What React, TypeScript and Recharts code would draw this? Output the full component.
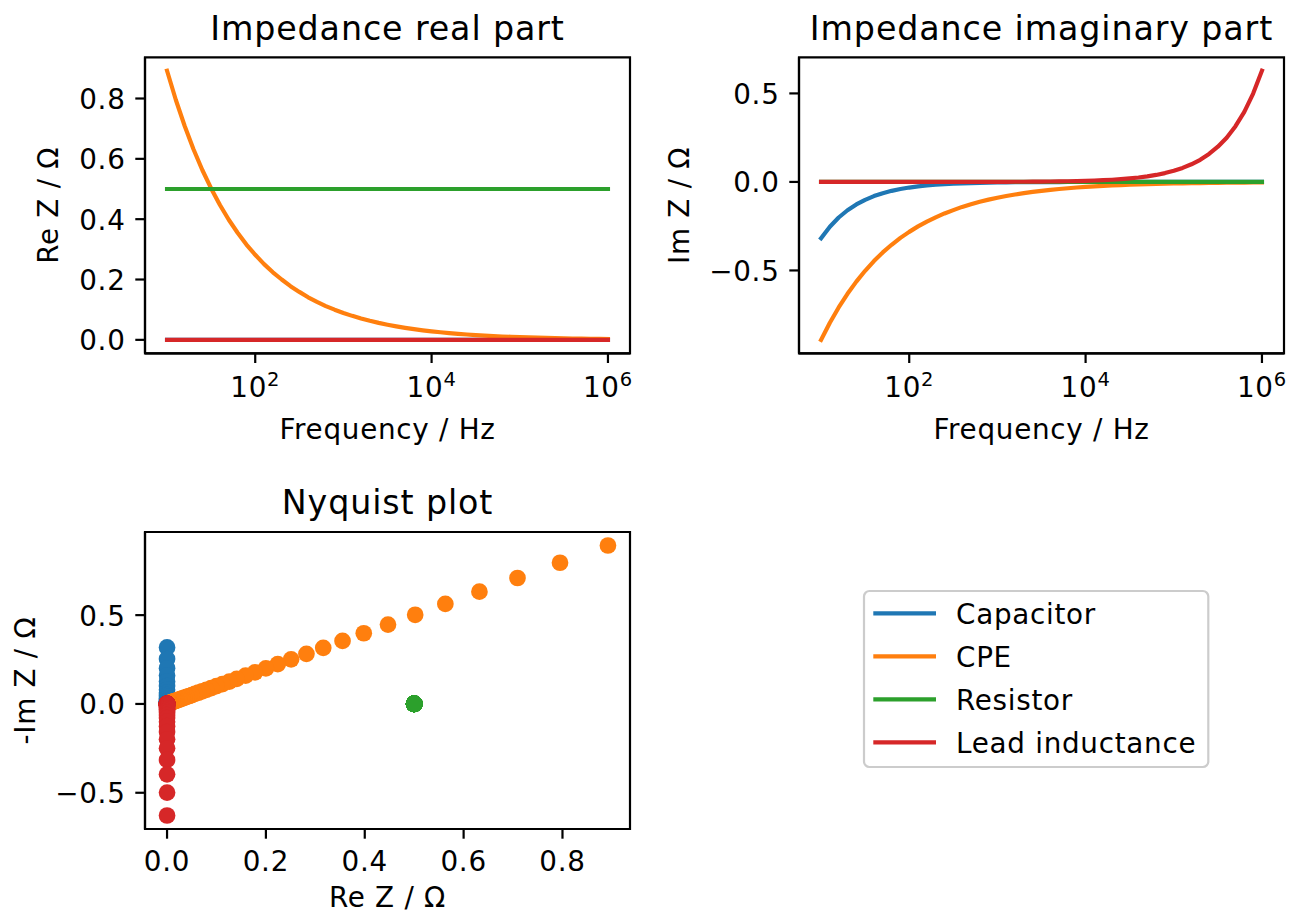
import React from "react"
import { LineChart, Line, ScatterChart, Scatter, XAxis, YAxis, ReferenceArea, Legend } from "recharts"

const FONT = "'DejaVu Sans', 'Liberation Sans', sans-serif"

const seriesNames = ["Capacitor", "CPE", "Resistor", "Lead inductance"]
const seriesColors = ["#1f77b4", "#ff7f0e", "#2ca02c", "#d62728"]

// frequency grid, Hz
const frequency = [
  10, 12.59, 15.85, 19.95, 25.12, 31.62, 39.81, 50.12, 63.1, 79.43,
  100, 125.9, 158.5, 199.5, 251.2, 316.2, 398.1, 501.2, 631, 794.3,
  1000, 1259, 1585, 1995, 2512, 3162, 3981, 5012, 6310, 7943,
  10000, 12589, 15849, 19953, 25119, 31623, 39811, 50119, 63096, 79433,
  100000, 125893, 158489, 199526, 251189, 316228, 398107, 501187, 630957, 794328,
  1000000,
]

const capacitorRe = [
  0, 0, 0, 0, 0, 0, 0, 0, 0, 0,
  0, 0, 0, 0, 0, 0, 0, 0, 0, 0,
  0, 0, 0, 0, 0, 0, 0, 0, 0, 0,
  0, 0, 0, 0, 0, 0, 0, 0, 0, 0,
  0, 0, 0, 0, 0, 0, 0, 0, 0, 0,
  0,
]
const capacitorIm = [
  -0.318, -0.253, -0.201, -0.16, -0.127, -0.101, -0.0799, -0.0635, -0.0504, -0.0401,
  -0.0318, -0.0253, -0.0201, -0.016, -0.0127, -0.0101, -0.00799, -0.00635, -0.00504, -0.00401,
  -0.00318, -0.00253, -0.00201, -0.0016, -0.00127, -0.00101, -0.000799, -0.000635, -0.000504, -0.000401,
  -0.000318, -0.000253, -0.000201, -0.00016, -0.000127, -0.000101, -0.0000799, -0.0000635, -0.0000504, -0.0000401,
  -0.0000318, -0.0000253, -0.0000201, -0.000016, -0.0000127, -0.0000101, -0.00000799, -0.00000635, -0.00000504, -0.00000401,
  -0.00000318,
]

const cpeRe = [
  0.892, 0.795, 0.709, 0.632, 0.563, 0.502, 0.447, 0.398, 0.355, 0.316,
  0.282, 0.251, 0.224, 0.2, 0.178, 0.159, 0.141, 0.126, 0.112, 0.1,
  0.0892, 0.0795, 0.0709, 0.0632, 0.0563, 0.0502, 0.0447, 0.0398, 0.0355, 0.0316,
  0.0282, 0.0251, 0.0224, 0.02, 0.0178, 0.0159, 0.0141, 0.0126, 0.0112, 0.01,
  0.00892, 0.00795, 0.00709, 0.00632, 0.00563, 0.00502, 0.00447, 0.00398, 0.00355, 0.00316,
  0.00282,
]
const cpeIm = [
  -0.892, -0.795, -0.709, -0.632, -0.563, -0.502, -0.447, -0.398, -0.355, -0.316,
  -0.282, -0.251, -0.224, -0.2, -0.178, -0.159, -0.141, -0.126, -0.112, -0.1,
  -0.0892, -0.0795, -0.0709, -0.0632, -0.0563, -0.0502, -0.0447, -0.0398, -0.0355, -0.0316,
  -0.0282, -0.0251, -0.0224, -0.02, -0.0178, -0.0159, -0.0141, -0.0126, -0.0112, -0.01,
  -0.00892, -0.00795, -0.00709, -0.00632, -0.00563, -0.00502, -0.00447, -0.00398, -0.00355, -0.00316,
  -0.00282,
]

const resistorRe = [
  0.5, 0.5, 0.5, 0.5, 0.5, 0.5, 0.5, 0.5, 0.5, 0.5,
  0.5, 0.5, 0.5, 0.5, 0.5, 0.5, 0.5, 0.5, 0.5, 0.5,
  0.5, 0.5, 0.5, 0.5, 0.5, 0.5, 0.5, 0.5, 0.5, 0.5,
  0.5, 0.5, 0.5, 0.5, 0.5, 0.5, 0.5, 0.5, 0.5, 0.5,
  0.5, 0.5, 0.5, 0.5, 0.5, 0.5, 0.5, 0.5, 0.5, 0.5,
  0.5,
]
const resistorIm = [
  0, 0, 0, 0, 0, 0, 0, 0, 0, 0,
  0, 0, 0, 0, 0, 0, 0, 0, 0, 0,
  0, 0, 0, 0, 0, 0, 0, 0, 0, 0,
  0, 0, 0, 0, 0, 0, 0, 0, 0, 0,
  0, 0, 0, 0, 0, 0, 0, 0, 0, 0,
  0,
]

const inductanceRe = [
  0, 0, 0, 0, 0, 0, 0, 0, 0, 0,
  0, 0, 0, 0, 0, 0, 0, 0, 0, 0,
  0, 0, 0, 0, 0, 0, 0, 0, 0, 0,
  0, 0, 0, 0, 0, 0, 0, 0, 0, 0,
  0, 0, 0, 0, 0, 0, 0, 0, 0, 0,
  0,
]
const inductanceIm = [
  0.00000628, 0.00000791, 0.00000996, 0.0000125, 0.0000158, 0.0000199, 0.000025, 0.0000315, 0.0000396, 0.0000499,
  0.0000628, 0.0000791, 0.0000996, 0.000125, 0.000158, 0.000199, 0.00025, 0.000315, 0.000396, 0.000499,
  0.000628, 0.000791, 0.000996, 0.00125, 0.00158, 0.00199, 0.0025, 0.00315, 0.00396, 0.00499,
  0.00628, 0.00791, 0.00996, 0.0125, 0.0158, 0.0199, 0.025, 0.0315, 0.0396, 0.0499,
  0.0628, 0.0791, 0.0996, 0.125, 0.158, 0.199, 0.25, 0.315, 0.396, 0.499,
  0.628,
]

const freqTicks = [100, 10000, 1000000]
const reTicks = [0, 0.2, 0.4, 0.6, 0.8]
const imTicks = [-0.5, 0, 0.5]
const nyquistXTicks = [0, 0.2, 0.4, 0.6, 0.8]
const nyquistYTicks = [-0.5, 0, 0.5]

const freqDomain = [5.6234, 1778279]
const reDomain = [-0.0446, 0.9366]
const imDomain = [-0.968, 0.704]
const nyqXDomain = [-0.0446, 0.9366]
const nyqYDomain = [-0.704, 0.968]

const lineData = frequency.map((f, i) => ({
  f,
  capRe: capacitorRe[i],
  capIm: capacitorIm[i],
  cpeRe: cpeRe[i],
  cpeIm: cpeIm[i],
  resRe: resistorRe[i],
  resIm: resistorIm[i],
  indRe: inductanceRe[i],
  indIm: inductanceIm[i],
}))

const nyquistSeries = [
  capacitorRe.map((x, i) => ({ x, y: -capacitorIm[i] })),
  cpeRe.map((x, i) => ({ x, y: -cpeIm[i] })),
  resistorRe.map((x, i) => ({ x, y: -resistorIm[i] })),
  inductanceRe.map((x, i) => ({ x, y: -inductanceIm[i] })),
]

const TICK_FS = 27.8
const TICK_LS = 0.72
const TITLE_FS = 33.3
const TITLE_LS = 0.88
const SPINE = 2.2

const fmt = (v: number) => v.toFixed(1).replace("-", "\u2212")

const YTick = (props: any) => {
  const { x, y, payload } = props
  return (
    <text x={x} y={y} dy={10.5} textAnchor="end" fontFamily={FONT} fontSize={TICK_FS} letterSpacing={TICK_LS} fill="#000">
      {fmt(payload.value)}
    </text>
  )
}

const XTick = (props: any) => {
  const { x, y, payload } = props
  return (
    <text x={x} y={y} dy={22.3} textAnchor="middle" fontFamily={FONT} fontSize={TICK_FS} letterSpacing={TICK_LS} fill="#000">
      {fmt(payload.value)}
    </text>
  )
}

const LogTick = (props: any) => {
  const { x, y, payload } = props
  const exp = Math.round(Math.log10(payload.value))
  return (
    <text x={x} y={y + 24.6} textAnchor="middle" fontFamily={FONT} fontSize={TICK_FS} letterSpacing={TICK_LS} fill="#000">
      <tspan>10</tspan>
      <tspan dy={-11.4} fontSize={19.5}>{exp}</tspan>
    </text>
  )
}

const axisProps = {
  tickSize: 9.7,
  tickMargin: 9.7,
  tickLine: { stroke: "#000", strokeWidth: SPINE },
  axisLine: { stroke: "#000", strokeWidth: SPINE },
  allowDataOverflow: true,
  interval: 0 as const,
}

function FrequencyPlot({ part, yDomain, yTicks, left, plotLeft, marginRight }: any) {
  const keys = part === "re" ? ["capRe", "cpeRe", "resRe", "indRe"] : ["capIm", "cpeIm", "resIm", "indIm"]
  return (
    <div style={{ position: "absolute", left, top: 0 }}>
      <LineChart
        width={part === "re" ? 660 : 647}
        height={460}
        data={lineData}
        margin={{ top: 57.3, right: marginRight, bottom: 0, left: 0 }}
      >
        <XAxis
          dataKey="f"
          type="number"
          scale="log"
          domain={freqDomain}
          ticks={freqTicks}
          height={106.7}
          tick={<LogTick />}
          {...axisProps}
        />
        <YAxis type="number" domain={yDomain} ticks={yTicks} width={plotLeft} tick={<YTick />} {...axisProps} />
        <ReferenceArea
          x1={freqDomain[0]}
          x2={freqDomain[1]}
          y1={yDomain[0]}
          y2={yDomain[1]}
          fill="none"
          stroke="#000"
          strokeWidth={SPINE}
          ifOverflow="visible"
        />
        {keys.map((k, i) => (
          <Line
            key={k}
            dataKey={k}
            name={seriesNames[i]}
            type="linear"
            stroke={seriesColors[i]}
            strokeWidth={4.17}
            strokeLinecap="square"
            strokeLinejoin="round"
            dot={false}
            activeDot={false}
            isAnimationActive={false}
          />
        ))}
      </LineChart>
    </div>
  )
}

function NyquistLegend(props: any) {
  // keep the plotting order, not the alphabetical one
  const payload = [...(props.payload ?? [])].sort(
    (a: any, b: any) => seriesNames.indexOf(a.value) - seriesNames.indexOf(b.value)
  )
  return (
    <svg width={347} height={179} style={{ display: "block", overflow: "visible" }}>
      <rect x={1} y={1} width={344.3} height={176} rx={5.5} fill="#fff" fillOpacity={0.8} stroke="#cccccc" strokeWidth={2.2} />
      {payload.map((it: any, i: number) => {
        const cy = 23.3 + 43 * i
        const color = seriesColors[seriesNames.indexOf(it.value)] ?? it.color
        return (
          <g key={it.value}>
            <line x1={10.3} x2={73} y1={cy} y2={cy} stroke={color} strokeWidth={4.17} />
            <text x={93} y={cy + 10.6} fontFamily={FONT} fontSize={TICK_FS} letterSpacing={TICK_LS} fill="#000">
              {it.value}
            </text>
          </g>
        )
      })}
    </svg>
  )
}

function NyquistPlot() {
  return (
    <div style={{ position: "absolute", left: 0, top: 460 }}>
      <ScatterChart width={1297} height={453} margin={{ top: 72, right: 667, bottom: 0, left: 0 }}>
        <XAxis
          dataKey="x"
          type="number"
          domain={nyqXDomain}
          ticks={nyquistXTicks}
          height={84}
          tick={<XTick />}
          {...axisProps}
        />
        <YAxis
          dataKey="y"
          type="number"
          domain={nyqYDomain}
          ticks={nyquistYTicks}
          width={145}
          tick={<YTick />}
          {...axisProps}
        />
        <ReferenceArea
          x1={nyqXDomain[0]}
          x2={nyqXDomain[1]}
          y1={nyqYDomain[0]}
          y2={nyqYDomain[1]}
          fill="none"
          stroke="#000"
          strokeWidth={SPINE}
          ifOverflow="visible"
        />
        {nyquistSeries.map((pts, i) => (
          <Scatter
            key={seriesNames[i]}
            name={seriesNames[i]}
            data={pts}
            fill={seriesColors[i]}
            isAnimationActive={false}
            shape={(p: any) => <circle cx={p.cx} cy={p.cy} r={8.35} fill={seriesColors[i]} />}
          />
        ))}
        <Legend
          layout="vertical"
          align="center"
          verticalAlign="middle"
          wrapperStyle={{ left: 863, top: 129.7, width: 347, height: 179 }}
          content={<NyquistLegend />}
        />
      </ScatterChart>
    </div>
  )
}

export default function App() {
  const label = { fontFamily: FONT, fill: "#000", fontSize: TICK_FS, letterSpacing: TICK_LS }
  const title = { fontFamily: FONT, fill: "#000", fontSize: TITLE_FS, letterSpacing: TITLE_LS }
  return (
    <div style={{ position: "absolute", left: 0, top: 0, width: 1297, height: 913, background: "#fff", overflow: "hidden" }}>
      <FrequencyPlot part="re" yDomain={reDomain} yTicks={reTicks} left={0} plotLeft={145} marginRight={30} />
      <FrequencyPlot part="im" yDomain={imDomain} yTicks={imTicks} left={650} plotLeft={149} marginRight={13} />
      <NyquistPlot />
      <svg width={1297} height={913} style={{ position: "absolute", left: 0, top: 0, pointerEvents: "none" }}>
        <text x={387.5} y={39.5} textAnchor="middle" {...title}>Impedance real part</text>
        <text x={1041.5} y={39.5} textAnchor="middle" {...title}>Impedance imaginary part</text>
        <text x={387.5} y={514} textAnchor="middle" {...title}>Nyquist plot</text>

        <text x={387.5} y={439} textAnchor="middle" {...label}>Frequency / Hz</text>
        <text x={1041.5} y={439} textAnchor="middle" {...label}>Frequency / Hz</text>
        <text x={387.5} y={906.5} textAnchor="middle" {...label}>Re Z / Ω</text>

        <text x={58.5} y={205.3} transform="rotate(-90 58.5 205.3)" textAnchor="middle" {...label}>Re Z / Ω</text>
        <text x={689.5} y={205.3} transform="rotate(-90 689.5 205.3)" textAnchor="middle" {...label}>Im Z / Ω</text>
        <text x={35} y={680.5} transform="rotate(-90 35 680.5)" textAnchor="middle" {...label}>-Im Z / Ω</text>
      </svg>
    </div>
  )
}
